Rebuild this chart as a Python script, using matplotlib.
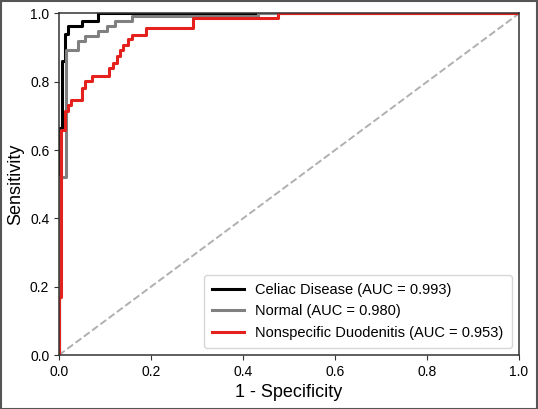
import matplotlib
matplotlib.use("Agg")
import matplotlib.pyplot as plt
from matplotlib.patches import Rectangle

plt.rcParams['font.family'] = ['Liberation Sans', 'DejaVu Sans']

# step points: at fpr x the curve climbs to tpr y
celiac_fpr = [0, 0.0056, 0.0134, 0.0192, 0.0493, 0.0853]
celiac_tpr = [0.665, 0.86, 0.94, 0.963, 0.977, 1.0]

normal_fpr = [0, 0.0153, 0.0416, 0.0561, 0.0853, 0.104, 0.122, 0.158, 0.432]
normal_tpr = [0.52, 0.894, 0.919, 0.933, 0.948, 0.963, 0.977, 0.992, 1.0]

nsd_fpr = [0, 0.0046, 0.0134, 0.0192, 0.026, 0.0493, 0.0561, 0.0707, 0.108, 0.118,
           0.125, 0.133, 0.140, 0.150, 0.158, 0.190, 0.292, 0.475]
nsd_tpr = [0.17, 0.66, 0.714, 0.733, 0.748, 0.782, 0.801, 0.816, 0.841, 0.855,
           0.875, 0.894, 0.909, 0.924, 0.938, 0.958, 0.987, 1.0]

labels = ['Celiac Disease (AUC = 0.993)', 'Normal (AUC = 0.980)',
          'Nonspecific Duodenitis (AUC = 0.953)']
colors = ['black', '#808080', '#e4211c']


def staircase(fpr, tpr):
    xs, ys = [0], [0]
    for x, y in zip(fpr, tpr):
        xs += [x, x]
        ys += [ys[-1], y]
    xs.append(1.0)
    ys.append(ys[-1])
    return xs, ys


fig = plt.figure(figsize=(5.38, 4.09), dpi=100)
ax = fig.add_axes([0.1097, 0.132, 0.855, 0.835])

ax.plot([0, 1], [0, 1], linestyle='--', color='#b0b0b0', linewidth=1.4)

curves = [(celiac_fpr, celiac_tpr), (normal_fpr, normal_tpr), (nsd_fpr, nsd_tpr)]
for (f, t), lab, c in zip(curves, labels, colors):
    xs, ys = staircase(f, t)
    ax.plot(xs, ys, color=c, linewidth=2.2, label=lab)

ax.set_xlim(0, 1)
ax.set_ylim(0, 1)
ax.set_xlabel('1 - Specificity', fontsize=13)
ax.set_ylabel('Sensitivity', fontsize=13)
ax.tick_params(labelsize=10, color='#333333')
for s in ax.spines.values():
    s.set_color('#333333')
    s.set_linewidth(1.1)

ax.legend(loc='lower right', fontsize=10.5, handlelength=2.2, borderpad=0.55,
          labelspacing=0.5)

fig.patches.append(Rectangle((0.001, 0.001), 0.997, 0.997, transform=fig.transFigure,
                             fill=False, edgecolor='#555555', linewidth=1.5))

fig.savefig('out.png', dpi=100)
